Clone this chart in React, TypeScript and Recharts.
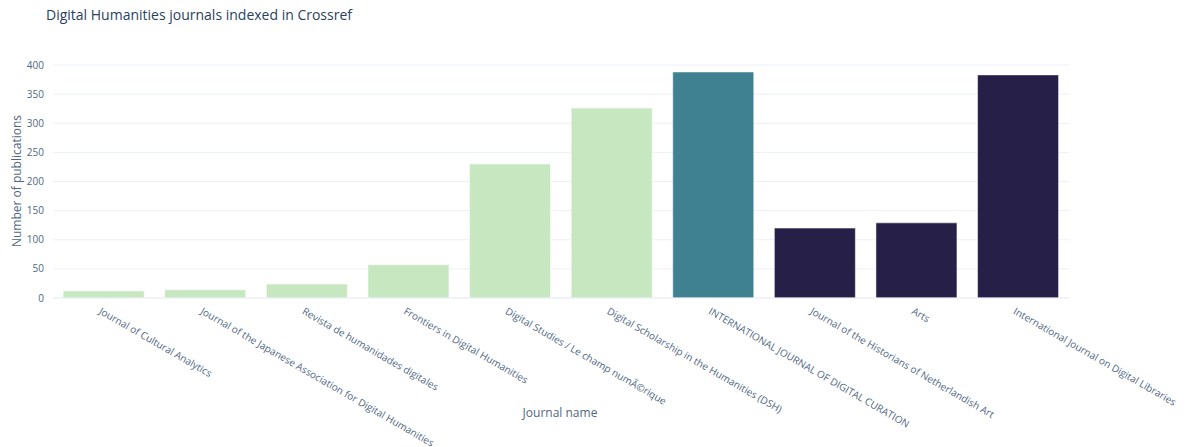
import { BarChart, Bar, XAxis, YAxis, CartesianGrid, Cell } from 'recharts';

const journals = [
  'Journal of Cultural Analytics',
  'Journal of the Japanese Association for Digital Humanities',
  'Revista de humanidades digitales',
  'Frontiers in Digital Humanities',
  'Digital Studies / Le champ numÃ©rique',
  'Digital Scholarship in the Humanities (DSH)',
  'INTERNATIONAL JOURNAL OF DIGITAL CURATION',
  'Journal of the Historians of Netherlandish Art',
  'Arts',
  'International Journal on Digital Libraries',
];
const publications = [12, 14, 24, 57, 230, 326, 388, 120, 129, 383];
const barColors = [
  '#c7e7c0', '#c7e7c0', '#c7e7c0', '#c7e7c0', '#c7e7c0', '#c7e7c0',
  '#3f8190', '#261f47', '#261f47', '#261f47',
];
const yTicks = [0, 50, 100, 150, 200, 250, 300, 350, 400];

const FONT = '"Open Sans", "Noto Sans", sans-serif';
const TEXT = '#506784';

const data = journals.map((name, i) => ({ name, count: publications[i] }));

function AngledTick({ x, y, payload }: any) {
  return (
    <g transform={`translate(${x - 2},${y + 1}) rotate(30)`}>
      <text x={0} y={0} dy="0.72em" textAnchor="start" fontSize={10} fill={TEXT} fontFamily={FONT}>
        {payload.value}
      </text>
    </g>
  );
}

export default function App() {
  return (
    <div style={{ position: 'absolute', left: 0, top: 0, width: 1186, height: 447, background: '#fff', fontFamily: FONT }}>
      <div style={{ position: 'absolute', left: 46, top: 5, fontSize: 14, color: '#2a3f5f' }}>
        Digital Humanities journals indexed in Crossref
      </div>
      <div style={{ position: 'absolute', left: 560, top: 412, fontSize: 12, color: TEXT, transform: 'translate(-50%, -50%)' }}>
        Journal name
      </div>
      <div style={{
        position: 'absolute', left: 16, top: 181, fontSize: 12, color: TEXT, whiteSpace: 'nowrap',
        transform: 'translate(-50%, -50%) rotate(-90deg)',
      }}>
        Number of publications
      </div>
      <BarChart
        width={1186}
        height={447}
        data={data}
        margin={{ top: 65, right: 117, bottom: 0, left: 0 }}
        barCategoryGap="10%"
      >
        <CartesianGrid vertical={false} stroke="#ebf0f8" />
        <XAxis
          dataKey="name"
          interval={0}
          height={149}
          tick={<AngledTick />}
          tickLine={false}
          axisLine={{ stroke: '#ebf0f8' }}
        />
        <YAxis
          width={53}
          domain={[0, 400]}
          ticks={yTicks}
          interval={0}
          tickLine={false}
          axisLine={false}
          tickMargin={3}
          tick={{ fontSize: 10, fill: TEXT, fontFamily: FONT }}
        />
        <Bar dataKey="count" isAnimationActive={false} stroke="#ffffff" strokeWidth={0.5}>
          {data.map((d, i) => <Cell key={d.name} fill={barColors[i]} />)}
        </Bar>
      </BarChart>
    </div>
  );
}
